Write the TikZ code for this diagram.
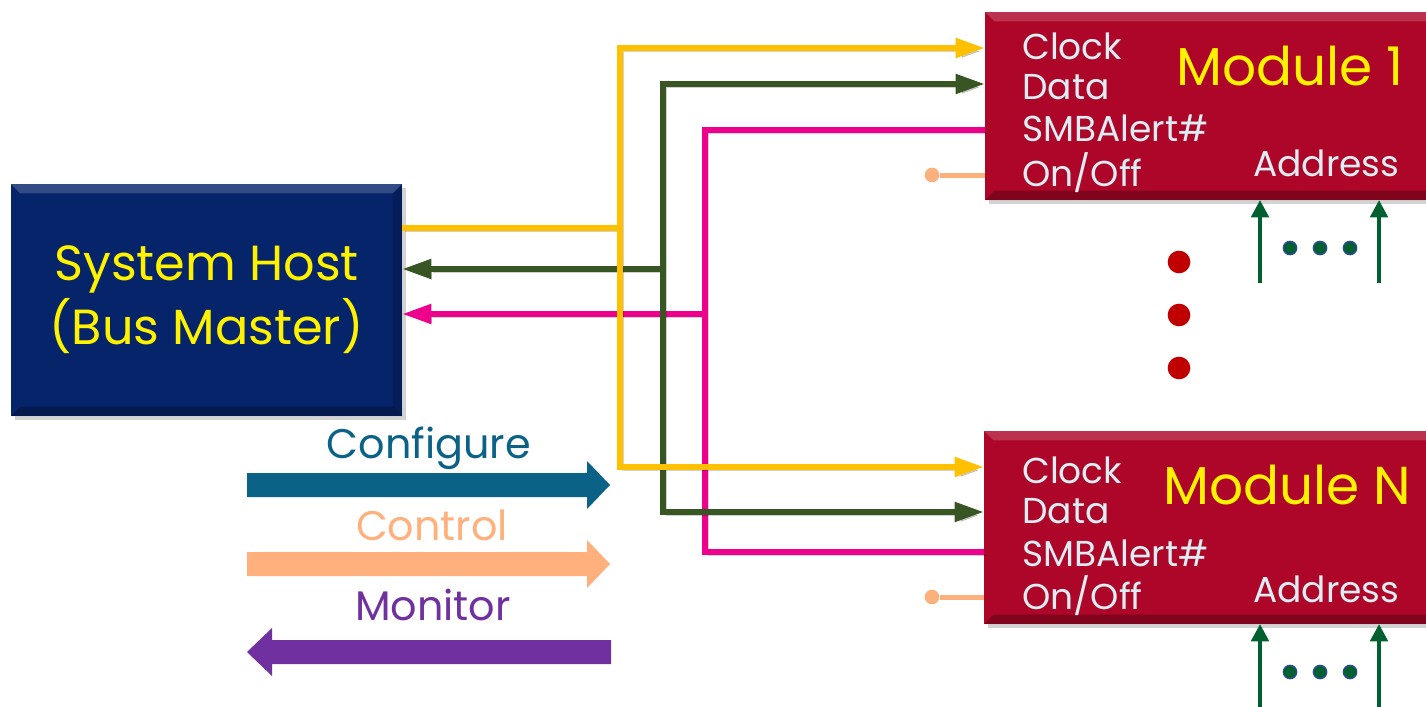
\documentclass[tikz,border=0pt]{standalone}
\usepackage{fontspec}
\setmainfont{Poppins}
\usetikzlibrary{arrows.meta,shadows,positioning}

\definecolor{hostblue}{HTML}{06246A}
\definecolor{modred}{HTML}{AD0628}
\definecolor{labelblue}{HTML}{DCEEF4}
\definecolor{clkyellow}{HTML}{FFC000}
\definecolor{datgreen}{HTML}{375623}
\definecolor{alertpink}{HTML}{EC008C}
\definecolor{onofforange}{HTML}{FBB07E}
\definecolor{addrgreen}{HTML}{00602F}
\definecolor{dotred}{HTML}{C00000}
\definecolor{dotblue}{HTML}{2E4A9A}
\definecolor{cfgteal}{HTML}{0A6286}
\definecolor{ctlorange}{HTML}{FFB07C}
\definecolor{monpurple}{HTML}{7030A0}

\begin{document}
\begin{tikzpicture}[x=0.75pt, y=-0.75pt,
  box/.style={rectangle, inner sep=0pt, outer sep=0pt,
    drop shadow={opacity=0.35, shadow xshift=3pt, shadow yshift=-3pt},
    path picture={
      \fill[white, opacity=0.18] (path picture bounding box.north west) -- (path picture bounding box.north east)
        -- ([xshift=-7pt, yshift=-7pt]path picture bounding box.north east) -- ([xshift=7pt, yshift=-7pt]path picture bounding box.north west) -- cycle;
      \fill[black, opacity=0.25] (path picture bounding box.south west) -- (path picture bounding box.south east)
        -- ([xshift=-7pt, yshift=7pt]path picture bounding box.south east) -- ([xshift=7pt, yshift=7pt]path picture bounding box.south west) -- cycle;
      \fill[black, opacity=0.15] (path picture bounding box.north east) -- (path picture bounding box.south east)
        -- ([xshift=-7pt, yshift=7pt]path picture bounding box.south east) -- ([xshift=-7pt, yshift=-7pt]path picture bounding box.north east) -- cycle;
    }},
  hostbox/.style={box, fill=hostblue, minimum width=293.25pt, minimum height=174pt,
    text=yellow, align=center, font=\fontsize{37}{48}\selectfont},
  modbox/.style={box, fill=modred, minimum width=352.5pt},
  pinlabel/.style={anchor=base west, inner sep=0pt, text=labelblue,
    font=\fontsize{27}{27}\selectfont},
  modtitle/.style={anchor=base west, inner sep=0pt, text=yellow,
    font=\fontsize{40}{40}\selectfont},
  legend/.style={anchor=base, inner sep=0pt, font=\fontsize{31}{31}\selectfont},
  bus/.style={line width=4.5pt,
    preaction={draw=black, opacity=0.18, transform canvas={xshift=2.5pt, yshift=-2.5pt}}},
  sig/.style={-{Triangle[length=22pt,width=14pt]}},
  addr/.style={line width=3pt, draw=addrgreen, -{Triangle[length=13pt,width=13pt]}},
  pindot/.style={circle, fill=onofforange, inner sep=0pt, minimum size=11pt},
  vdot/.style={circle, fill=dotred, inner sep=0pt, minimum size=17pt},
  hdot/.style={circle, fill=addrgreen, draw=dotblue, line width=1pt, inner sep=0pt, minimum size=10pt}
]
\useasboundingbox (0,0) rectangle (1426,706);
\clip (0,0) rectangle (1426,706);

% boxes
\node[hostbox] (host) at (206.5,300) {System Host\\(Bus Master)};
\node[modbox, minimum height=141pt] (mod1) at (1220,106) {};
\node[modbox, minimum height=144.75pt] (modN) at (1219,527.5) {};

\node[pinlabel] (m1clk) at (1022,60) {Clock};
\node[pinlabel] (m1dat) at (1022,100) {Data};
\node[pinlabel] (m1alt) at (1022,142) {SMBAlert\#};
\node[pinlabel] (m1onf) at (1022,186) {On/Off};
\node[modtitle] (m1name) at (1176,86) {Module 1};
\node[pinlabel] (m1addr) at (1253,176) {Address};

\node[pinlabel] (mNclk) at (1022,483) {Clock};
\node[pinlabel] (mNdat) at (1022,523) {Data};
\node[pinlabel] (mNalt) at (1022,566) {SMBAlert\#};
\node[pinlabel] (mNonf) at (1022,609) {On/Off};
\node[modtitle] (mNname) at (1163,504) {Module N};
\node[pinlabel] (mNaddr) at (1253,602) {Address};

% bus lines
\coordinate (clkbus) at (620,228);
\coordinate (datbus) at (663,269);
\coordinate (altbus) at (705,314);

\draw[bus, alertpink, sig] (altbus) -- (host.east |- altbus);
\draw[bus, alertpink] (altbus) |- (mod1.west |- 0,130);
\draw[bus, alertpink] (altbus) |- (modN.west |- 0,552);

\draw[bus, datgreen, sig] (datbus) -- (host.east |- datbus);
\draw[bus, datgreen, sig] (datbus) |- (mod1.west |- 0,84);
\draw[bus, datgreen, sig] (datbus) |- (modN.west |- 0,512);

\draw[bus, clkyellow] (host.east |- clkbus) -- (clkbus);
\draw[bus, clkyellow, sig] (clkbus) |- (mod1.west |- 0,48);
\draw[bus, clkyellow, sig] (clkbus) |- (modN.west |- 0,467);

% on/off pins
\node[pindot] (m1pin) at (932,175) {};
\node[pindot] (mNpin) at (932,597) {};
\draw[line width=3.75pt, onofforange] (m1pin) -- (m1pin -| mod1.west);
\draw[line width=3.75pt, onofforange] (mNpin) -- (mNpin -| modN.west);

% more modules
\foreach \yy [count=\i] in {262,315,368}
  \node[vdot] (vdot\i) at (1179,\yy) {};

% address straps
\coordinate (a1l) at (1260,283);
\coordinate (a1r) at (1379,283);
\coordinate (aNl) at (1260,712);
\coordinate (aNr) at (1379,712);
\draw[addr] (a1l) -- (a1l |- mod1.south);
\draw[addr] (a1r) -- (a1r |- mod1.south);
\draw[addr] (aNl) -- (aNl |- modN.south);
\draw[addr] (aNr) -- (aNr |- modN.south);
\foreach \xx [count=\i] in {1290,1320,1350} {
  \node[hdot] (h1dot\i) at (\xx,248) {};
  \node[hdot] (hNdot\i) at (\xx,672) {};
}

% legend
\node[legend, text=cfgteal] (cfglabel) at (429,458) {Configure};
\node[legend, text=ctlorange] (ctllabel) at (432,540) {Control};
\node[legend, text=monpurple] (monlabel) at (433,620) {Monitor};
\fill[cfgteal] (247,473) -- (587,473) -- (587,461) -- (610,485) -- (587,509) -- (587,497) -- (247,497) -- cycle;
\fill[ctlorange] (247,552) -- (587,552) -- (587,540) -- (610,564) -- (587,588) -- (587,576) -- (247,576) -- cycle;
\fill[monpurple] (611,640) -- (272,640) -- (272,628) -- (247,652) -- (272,676) -- (272,664) -- (611,664) -- cycle;

\end{tikzpicture}
\end{document}
